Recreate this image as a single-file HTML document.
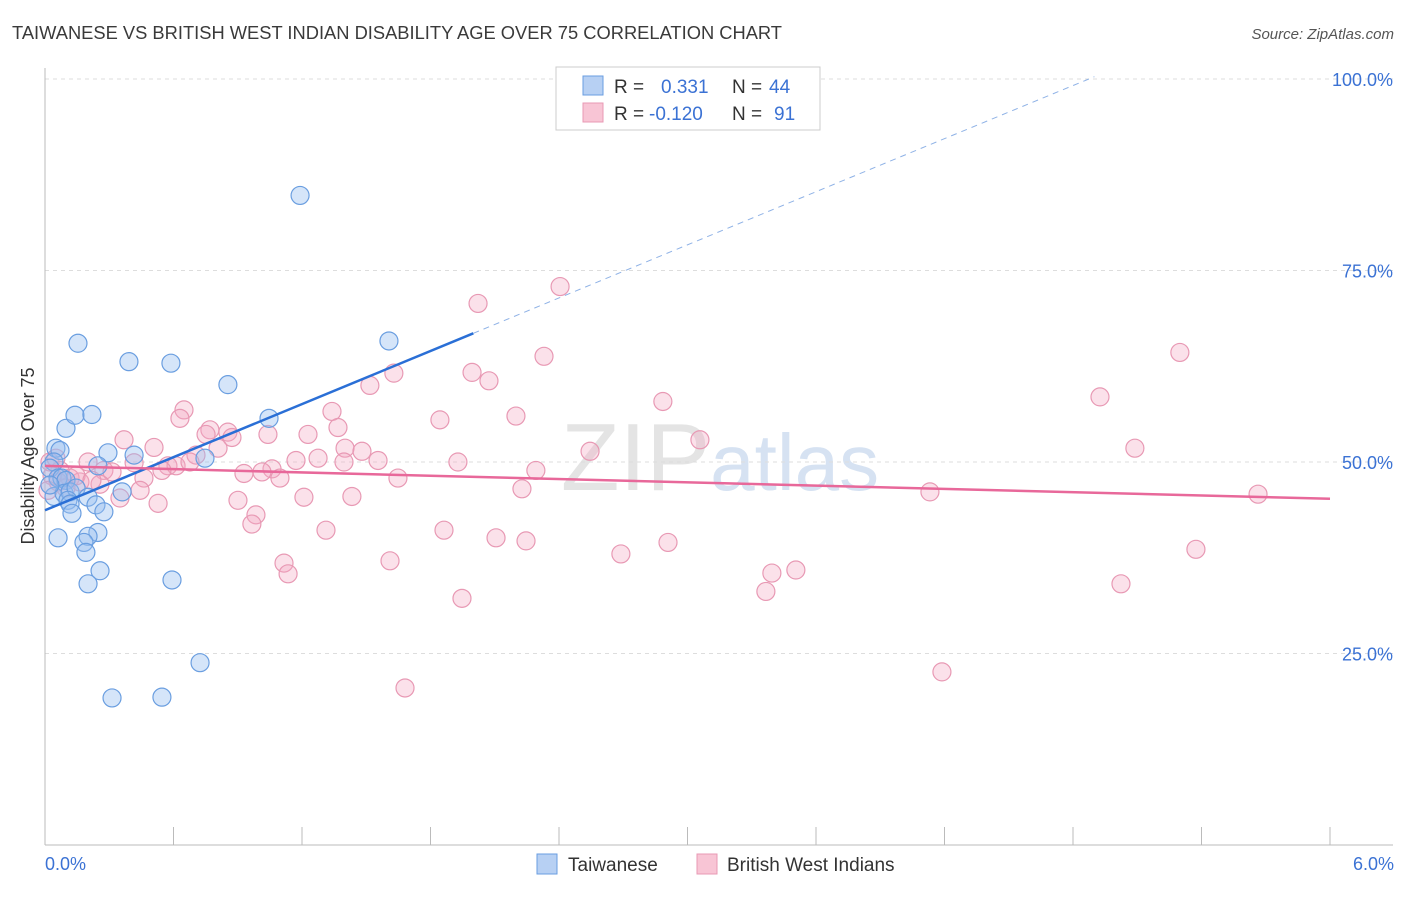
<!DOCTYPE html>
<html><head><meta charset="utf-8"><style>
body{margin:0;background:#fff;font-family:"Liberation Sans",sans-serif;}
svg text{font-family:"Liberation Sans",sans-serif;}
</style></head><body>
<svg id="chart" width="1406" height="892" xmlns="http://www.w3.org/2000/svg">
<text x="12" y="39" font-size="18" fill="#3a3a3a" textLength="770" lengthAdjust="spacingAndGlyphs">TAIWANESE VS BRITISH WEST INDIAN DISABILITY AGE OVER 75 CORRELATION CHART</text>
<text x="1394" y="39" font-size="15" fill="#555" text-anchor="end" font-style="italic">Source: ZipAtlas.com</text>
<text x="720" y="490" font-size="96" fill="#e4e4e4" text-anchor="middle" font-family="Liberation Serif">ZIP<tspan fill="#d6e2f2" font-family="Liberation Sans" font-size="80">atlas</tspan></text>
<g id="grid"></g><g id="axes"></g><g id="pts"></g><g id="trend"></g>
<text transform="translate(34,456) rotate(-90)" font-size="18" fill="#333" text-anchor="middle">Disability Age Over 75</text>
<text x="45" y="870" font-size="18" fill="#3b72d4">0.0%</text>
<text x="1394" y="870" font-size="18" fill="#3b72d4" text-anchor="end">6.0%</text>
<g>
<rect x="556" y="67" width="264" height="63" fill="#fff" stroke="#ccc"/>
<rect x="583" y="76" width="20" height="19" fill="#b7d0f3" stroke="#6a9ee0"/>
<rect x="583" y="103" width="20" height="19" fill="#f8c5d5" stroke="#e899b4"/>
<text x="614" y="93" font-size="19" fill="#333">R =  <tspan fill="#3b72d4" x="661">0.331</tspan><tspan fill="#333" x="732">N =</tspan><tspan fill="#3b72d4" x="769">44</tspan></text>
<text x="614" y="120" font-size="19" fill="#333">R = <tspan fill="#3b72d4" x="649">-0.120</tspan><tspan fill="#333" x="732">N =</tspan><tspan fill="#3b72d4" x="774">91</tspan></text>
</g>
<g>
<rect x="537" y="854" width="20" height="20" fill="#b7d0f3" stroke="#6a9ee0"/>
<text x="568" y="871" font-size="19" fill="#333">Taiwanese</text>
<rect x="697" y="854" width="20" height="20" fill="#f8c5d5" stroke="#e899b4"/>
<text x="727" y="871" font-size="19" fill="#333">British West Indians</text>
</g>
</svg>
<script>
const blueX=[.154,.392,.588,.854,.098,.140,.219,.051,.070,.042,.023,.294,.416,.247,.747,1.046,1.191,1.606,.061,.079,.098,.042,.089,.117,.145,.107,.117,.201,.238,.360,.275,.126,.247,.201,.061,.182,.191,.257,.201,.593,.724,.313,.546,.023];
const blueY=[65.5,63.1,62.9,60.1,54.4,56.1,56.2,51.8,51.5,50.0,49.2,51.2,50.9,49.5,50.5,55.7,84.8,65.8,47.9,47.9,47.6,45.5,45.9,46.1,46.6,45.0,44.5,45.4,44.4,46.1,43.5,43.3,40.8,40.3,40.1,39.5,38.2,35.8,34.1,34.6,23.8,19.2,19.3,47.0];
const pinkX=[2.022,2.405,5.299,2.330,1.994,1.629,1.517,2.073,4.926,2.885,1.340,2.199,.649,.630,1.844,.770,.854,.752,1.368,.873,1.041,1.228,3.058,2.545,5.089,.369,.509,1.401,1.480,.808,.705,1.172,1.275,1.555,1.928,.416,.574,.612,.546,.677,1.396,1.060,1.013,.929,1.097,1.648,2.292,.070,.201,.275,.313,.462,.117,.163,.257,.061,.033,.098,.444,.350,.528,.901,1.209,1.433,2.227,4.132,5.664,.985,.966,1.312,1.863,2.106,2.246,2.689,2.909,1.611,1.116,1.135,3.394,3.506,5.374,5.024,3.366,1.947,1.681,4.188,.023,.051,.145,.219,.014];
const pinkY=[70.7,72.9,64.3,63.8,61.7,61.6,60.0,60.6,58.5,57.9,56.6,56.0,56.8,55.7,55.5,54.2,53.9,53.6,54.5,53.2,53.6,53.6,52.9,51.4,51.8,52.9,51.9,51.8,51.4,51.8,50.9,50.2,50.5,50.2,50.0,49.9,49.5,49.5,48.9,50.0,50.0,49.1,48.7,48.5,47.9,47.9,48.9,48.9,50.0,48.9,48.7,47.9,47.9,47.4,47.1,47.4,48.2,46.6,46.3,45.3,44.6,45.0,45.4,45.5,46.5,46.1,45.8,43.1,41.9,41.1,41.1,40.1,39.7,38.0,39.5,37.1,36.8,35.4,35.5,35.9,38.6,34.1,33.1,32.2,20.5,22.6,50.0,50.5,48.2,47.6,46.3];
const yTicks=[25,50,75,100];
const yTickLabels=["25.0%","50.0%","75.0%","100.0%"];
const xTicks=[0,0.6,1.2,1.8,2.4,3.0,3.6,4.2,4.8,5.4,6.0];
const blueTrend=[[0,43.7],[2.0,66.8],[4.9,100.3]];
const pinkTrend=[[0,49.5],[6,45.2]];
const NS="http://www.w3.org/2000/svg";
const sx=v=>45+v/6*1285, sy=v=>845-v*7.66;
function mk(t,a,p){const e=document.createElementNS(NS,t);for(const k in a)e.setAttribute(k,a[k]);p.appendChild(e);return e;}
const grid=document.getElementById('grid'),axes=document.getElementById('axes'),pts=document.getElementById('pts'),tr=document.getElementById('trend');
yTicks.forEach((v,i)=>{
 const l=mk('line',{x1:45,x2:1393,y1:sy(v),y2:sy(v),stroke:'#ddd','stroke-dasharray':'4,4'},grid);
 
 
 const t=mk('text',{x:1393,y:sy(v)+7,'font-size':18,fill:'#3b72d4','text-anchor':'end'},grid);
 t.textContent=yTickLabels[i];
 
 
});
let a=mk('line',{x1:45,x2:45,y1:68,y2:845,stroke:'#bbb'},axes);


a=mk('line',{x1:45,x2:1393,y1:845,y2:845,stroke:'#bbb'},axes);


xTicks.forEach(v=>{
 const l=mk('line',{x1:sx(v),x2:sx(v),y1:827,y2:845,stroke:'#bbb'},axes);
 
 
});
function dots(X,Y,fill,stroke,name){X.forEach((x,i)=>{
 const c=mk('circle',{cx:sx(x),cy:sy(Y[i]),r:9,fill:fill,stroke:stroke,'stroke-width':1.2},pts);
 
 
});}
dots(pinkX,pinkY,'rgba(244,170,195,0.35)','#e899b4','british-west-indian-point');
dots(blueX,blueY,'rgba(150,190,240,0.4)','#6a9ee0','taiwanese-point');
let l=mk('line',{x1:sx(blueTrend[0][0]),y1:sy(blueTrend[0][1]),x2:sx(blueTrend[1][0]),y2:sy(blueTrend[1][1]),stroke:'#2a6fd6','stroke-width':2.5},tr);


l=mk('line',{x1:sx(blueTrend[1][0]),y1:sy(blueTrend[1][1]),x2:sx(blueTrend[2][0]),y2:sy(blueTrend[2][1]),stroke:'#8fb2e6','stroke-width':1,'stroke-dasharray':'6,5'},tr);


l=mk('line',{x1:sx(pinkTrend[0][0]),y1:sy(pinkTrend[0][1]),x2:sx(pinkTrend[1][0]),y2:sy(pinkTrend[1][1]),stroke:'#e8689a','stroke-width':2.5},tr);


</script>
</body></html>
